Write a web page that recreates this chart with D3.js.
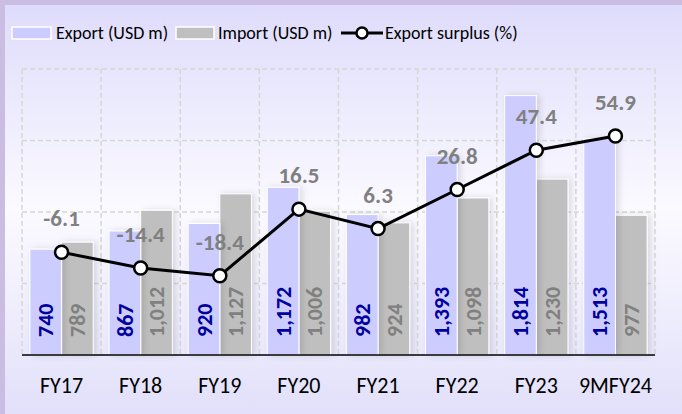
<!DOCTYPE html>
<meta charset="utf-8">
<style>
body { margin: 0; background: #fff; }
svg { display: block; font-family: Carlito, Calibri, Lato, sans-serif; }
.grid line { stroke: #d6d6d6; stroke-width: 1.5px; stroke-dasharray: 5,3; }
</style>
<svg width="682" height="414"></svg>
<script src="https://d3js.org/d3.v7.min.js"></script>
<script>

var categories = ["FY17", "FY18", "FY19", "FY20", "FY21", "FY22", "FY23", "9MFY24"];
var exportVals = [740, 867, 920, 1172, 982, 1393, 1814, 1513];
var importVals = [789, 1012, 1127, 1006, 924, 1098, 1230, 977];
var surplus = [-6.1, -14.4, -18.4, 16.5, 6.3, 26.8, 47.4, 54.9];

var svg = d3.select("svg"),
    width = +svg.attr("width"),
    height = +svg.attr("height");

var plotLeft = 22, plotRight = 655, plotTop = 69, plotBottom = 355;

// background frame with gradient
var defs = svg.append("defs");
var grad = defs.append("linearGradient")
    .attr("id", "bg").attr("x1", 0).attr("y1", 0).attr("x2", 0).attr("y2", 1);
grad.append("stop").attr("offset", "0%").attr("stop-color", "#dedcfb");
grad.append("stop").attr("offset", "50%").attr("stop-color", "#fbfaff");
grad.append("stop").attr("offset", "100%").attr("stop-color", "#e2e0fa");

var shadow = defs.append("filter").attr("id", "shadow")
    .attr("x", "-20%").attr("y", "-20%").attr("width", "160%").attr("height", "140%");
shadow.append("feDropShadow")
    .attr("dx", 3).attr("dy", 0).attr("stdDeviation", 3)
    .attr("flood-color", "#000").attr("flood-opacity", 0.12);

svg.append("rect")
    .attr("x", 0).attr("y", 0).attr("width", width).attr("height", height)
    .attr("fill", "#cbbde2");
svg.append("rect")
    .attr("x", 5).attr("y", 5).attr("width", width - 5).attr("height", height - 5)
    .attr("fill", "url(#bg)");

var x = d3.scaleBand()
    .domain(categories)
    .range([plotLeft, plotRight])
    .paddingInner(0.2)
    .paddingOuter(0.1);

var x1 = d3.scaleBand()
    .domain(["exp", "imp"])
    .range([0, x.bandwidth()]);

var y = d3.scaleLinear().domain([0, 2000]).range([plotBottom, plotTop]);
var y2 = d3.scaleLinear().domain([-60, 90]).range([plotBottom, plotTop]);

// grid
var grid = svg.append("g").attr("class", "grid");
grid.selectAll("line.h")
    .data(y.ticks(4).filter(function(d) { return d > 0; }))
    .enter().append("line")
    .attr("x1", plotLeft).attr("x2", plotRight)
    .attr("y1", function(d) { return y(d); })
    .attr("y2", function(d) { return y(d); });

var step = x.step();
var vx = d3.range(categories.length + 1).map(function(i) { return plotLeft + i * step; });
grid.selectAll("line.v")
    .data(vx)
    .enter().append("line")
    .attr("x1", function(d) { return d; }).attr("x2", function(d) { return d; })
    .attr("y1", plotTop).attr("y2", plotBottom);

// bars
var groups = svg.append("g").selectAll("g")
    .data(categories)
    .enter().append("g")
    .attr("transform", function(d) { return "translate(" + x(d) + ",0)"; });

groups.append("rect")
    .attr("x", x1("imp"))
    .attr("y", function(d, i) { return y(importVals[i]); })
    .attr("width", x1.bandwidth())
    .attr("height", function(d, i) { return plotBottom - y(importVals[i]); })
    .attr("fill", "#bfbfbf")
    .attr("stroke", "#fff").attr("stroke-width", 1)
    .attr("filter", "url(#shadow)");

groups.append("rect")
    .attr("x", x1("exp"))
    .attr("y", function(d, i) { return y(exportVals[i]); })
    .attr("width", x1.bandwidth())
    .attr("height", function(d, i) { return plotBottom - y(exportVals[i]); })
    .attr("fill", "#ccccff")
    .attr("stroke", "#fff").attr("stroke-width", 1)
    .attr("filter", "url(#shadow)");

var fmt = d3.format(",");

groups.append("text")
    .attr("transform", "translate(" + (x1("exp") + x1.bandwidth() / 2) + "," + (plotBottom - 18) + ") rotate(-90)")
    .attr("dy", "0.35em")
    .attr("fill", "#00009c")
    .attr("font-weight", "bold")
    .attr("font-size", "22px")
    .text(function(d, i) { return fmt(exportVals[i]); });

groups.append("text")
    .attr("transform", "translate(" + (x1("imp") + x1.bandwidth() / 2) + "," + (plotBottom - 18) + ") rotate(-90)")
    .attr("dy", "0.35em")
    .attr("fill", "#808080")
    .attr("font-weight", "bold")
    .attr("font-size", "22px")
    .text(function(d, i) { return fmt(importVals[i]); });

// axis line
svg.append("line")
    .attr("x1", plotLeft).attr("x2", plotRight)
    .attr("y1", plotBottom).attr("y2", plotBottom)
    .attr("stroke", "#000").attr("stroke-width", 1.5);

// x labels
svg.append("g").selectAll("text")
    .data(categories)
    .enter().append("text")
    .attr("x", function(d) { return x(d) + x.bandwidth() / 2; })
    .attr("y", 393)
    .attr("text-anchor", "middle")
    .attr("font-size", "22px")
    .attr("fill", "#000")
    .text(function(d) { return d; });

// surplus line
var cx = function(d, i) { return x(categories[i]) + x.bandwidth() / 2; };

var line = d3.line()
    .x(function(d, i) { return cx(d, i); })
    .y(function(d) { return y2(d); });

svg.append("path")
    .datum(surplus)
    .attr("d", line)
    .attr("fill", "none")
    .attr("stroke", "#000")
    .attr("stroke-width", 3);

svg.append("g").selectAll("circle")
    .data(surplus)
    .enter().append("circle")
    .attr("cx", cx)
    .attr("cy", function(d) { return y2(d); })
    .attr("r", 6.5)
    .attr("fill", "#fff")
    .attr("stroke", "#000")
    .attr("stroke-width", 2.5);

svg.append("g").selectAll("text")
    .data(surplus)
    .enter().append("text")
    .attr("x", cx)
    .attr("y", function(d) { return y2(d) - 26; })
    .attr("text-anchor", "middle")
    .attr("font-size", "23px")
    .attr("font-weight", "bold")
    .attr("fill", "#808080")
    .text(function(d) { return d.toFixed(1); });

// legend
var legend = svg.append("g").attr("font-size", "18px");
legend.append("rect")
    .attr("x", 12).attr("y", 27).attr("width", 39).attr("height", 12)
    .attr("fill", "#ccccff").attr("stroke", "#fff").attr("stroke-width", 1.5);
legend.append("text").attr("x", 56).attr("y", 39).text("Export (USD m)");
legend.append("rect")
    .attr("x", 176).attr("y", 27).attr("width", 38).attr("height", 12)
    .attr("fill", "#bfbfbf").attr("stroke", "#fff").attr("stroke-width", 1.5);
legend.append("text").attr("x", 218).attr("y", 39).text("Import (USD m)");
legend.append("line")
    .attr("x1", 341).attr("x2", 383).attr("y1", 33).attr("y2", 33)
    .attr("stroke", "#000").attr("stroke-width", 3);
legend.append("circle")
    .attr("cx", 362).attr("cy", 33).attr("r", 5.5)
    .attr("fill", "#fff").attr("stroke", "#000").attr("stroke-width", 2.5);
legend.append("text").attr("x", 385).attr("y", 39).text("Export surplus (%)");

</script>
